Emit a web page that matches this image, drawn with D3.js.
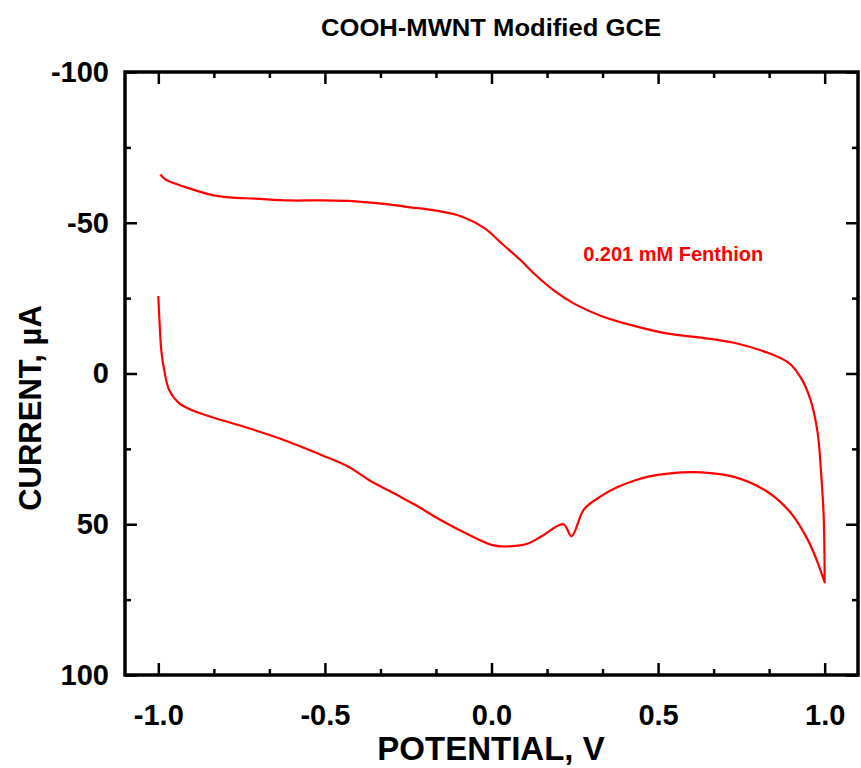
<!DOCTYPE html>
<html>
<head>
<meta charset="utf-8">
<script src="https://cdn.jsdelivr.net/npm/d3@7"></script>
<style>
  body { margin: 0; background: #fff; }
  svg { display: block; font-family: "Liberation Sans", Arial, sans-serif; }
</style>
</head>
<body>
<svg id="cv"></svg>
<script>
// forward scan (upper branch), potential in V, current in uA
var upperPotential = [-0.994, -0.979, -0.94, -0.907, -0.847, -0.787, -0.71, -0.608, -0.509, -0.41, -0.308, -0.25, -0.171, -0.09, -0.021, 0.03, 0.09, 0.129, 0.189, 0.249, 0.329, 0.428, 0.53, 0.629, 0.728, 0.829, 0.87, 0.898, 0.928, 0.958, 0.979, 0.988, 0.997, 1.0];
var upperCurrent   = [-66, -64.4, -62.6, -61.4, -59.4, -58.4, -58, -57.4, -57.4, -57.1, -56.1, -55.2, -54.1, -52.1, -48.2, -43.2, -37.3, -33, -27.4, -23.1, -19.1, -15.8, -13.2, -11.9, -10.2, -6.9, -5.0, -3.0, 1.3, 8.9, 19.8, 31, 47.5, 69.3];

// reverse scan (lower branch)
var lowerPotential = [1.0, 0.979, 0.949, 0.898, 0.829, 0.728, 0.629, 0.53, 0.47, 0.43, 0.38, 0.33, 0.278, 0.24, 0.216, 0.15, 0.11, 0.08, 0.01, -0.08, -0.17, -0.219, -0.27, -0.299, -0.368, -0.428, -0.509, -0.569, -0.629, -0.71, -0.778, -0.838, -0.898, -0.937, -0.967, -0.982, -0.991, -0.997, -1.0];
var lowerCurrent   = [69.3, 62.7, 55.1, 46.2, 39.3, 34.3, 32.8, 33.2, 34.2, 35.5, 37.6, 40.6, 45, 54, 50, 54, 56.4, 57.1, 57.1, 52.8, 47.5, 44.2, 41.1, 39.4, 35.3, 31, 27.1, 24.4, 21.8, 18.8, 16.5, 14.5, 12.2, 9.9, 5.6, -1, -7.6, -18.5, -25.7];

var xMajor = [-1.0, -0.5, 0.0, 0.5, 1.0];
var xMinor = [-0.8333, -0.6667, -0.3333, -0.1667, 0.1667, 0.3333, 0.6667, 0.8333];
var yMajor = [-100, -50, 0, 50, 100];
var yMinor = [-75, -25, 25, 75];

var titleText = "COOH-MWNT Modified GCE";
var xTitle = "POTENTIAL, V";
var yTitle = "CURRENT, \u00B5A";
var noteText = "0.201 mM Fenthion";

var dimensions = {
    width: 861,
    height: 768,
    margin: { top: 72, bottom: 93, left: 125, right: 3 }
};

var svg = d3.select("#cv")
            .attr("width", dimensions.width)
            .attr("height", dimensions.height);

var x0 = dimensions.margin.left,
    x1 = dimensions.width - dimensions.margin.right,
    y0 = dimensions.margin.top,
    y1 = dimensions.height - dimensions.margin.bottom;

var xScale = d3.scaleLinear().domain([-1.1, 1.1]).range([x0, x1]);
var yScale = d3.scaleLinear().domain([-100, 100]).range([y0, y1]);

// plain hyphen for negatives, like the original
var fmtX = d => d3.format(".1f")(d).replace("\u2212", "-");
var fmtY = d => d3.format("d")(d).replace("\u2212", "-");

var scan = upperPotential.map((p, i) => ({ p: p, c: upperCurrent[i] }))
    .concat(lowerPotential.map((p, i) => ({ p: p, c: lowerCurrent[i] })));

var line = d3.line()
             .curve(d3.curveCatmullRom.alpha(0.5))
             .x(d => xScale(d.p))
             .y(d => yScale(d.c));

svg.append("path")
   .datum(scan)
   .attr("d", line)
   .attr("fill", "none")
   .attr("stroke", "#ff0000")
   .attr("stroke-width", 2.2)
   .attr("stroke-linejoin", "round");

// minor ticks, all four sides
function minorAxis(gen, vals, tx, ty) {
    svg.append("g")
       .attr("transform", `translate(${tx},${ty})`)
       .call(gen.tickValues(vals).tickSize(-6).tickFormat(""))
       .call(g => g.select(".domain").remove())
       .selectAll("line").attr("stroke-width", 2.5);
}
minorAxis(d3.axisBottom(xScale), xMinor, 0, y1);
minorAxis(d3.axisTop(xScale), xMinor, 0, y0);
minorAxis(d3.axisLeft(yScale), yMinor, x0, 0);
minorAxis(d3.axisRight(yScale), yMinor, x1, 0);

// major ticks with labels
var xAxis = svg.append("g")
   .attr("transform", `translate(0,${y1})`)
   .call(d3.axisBottom(xScale).tickValues(xMajor).tickSize(-12).tickPadding(29).tickFormat(fmtX));
var yAxis = svg.append("g")
   .attr("transform", `translate(${x0},0)`)
   .call(d3.axisLeft(yScale).tickValues(yMajor).tickSize(-12).tickPadding(16).tickFormat(fmtY));
svg.append("g")
   .attr("transform", `translate(0,${y0})`)
   .call(d3.axisTop(xScale).tickValues(xMajor).tickSize(-12).tickFormat(""));
svg.append("g")
   .attr("transform", `translate(${x1},0)`)
   .call(d3.axisRight(yScale).tickValues(yMajor).tickSize(-12).tickFormat(""));

svg.selectAll(".tick line").attr("stroke", "#000").attr("stroke-width", 2.5);
svg.selectAll(".domain").remove();
svg.selectAll(".tick text")
   .attr("fill", "#000")
   .style("font-size", "29px")
   .style("font-weight", "bold");

// frame
svg.append("rect")
   .attr("x", x0).attr("y", y0)
   .attr("width", x1 - x0).attr("height", y1 - y0)
   .attr("fill", "none")
   .attr("stroke", "#000")
   .attr("stroke-width", 3.5);

svg.append("text")
   .text(titleText)
   .attr("x", 491).attr("y", 36)
   .attr("text-anchor", "middle")
   .attr("textLength", 340).attr("lengthAdjust", "spacingAndGlyphs")
   .style("font-size", "23px").style("font-weight", "bold");

svg.append("text")
   .text(xTitle)
   .attr("x", 491).attr("y", 760)
   .attr("text-anchor", "middle")
   .style("font-size", "33px").style("font-weight", "bold");

svg.append("text")
   .text(yTitle)
   .attr("transform", "translate(41,408) rotate(-90)")
   .attr("text-anchor", "middle")
   .style("font-size", "31px").style("font-weight", "bold");

svg.append("text")
   .text(noteText)
   .attr("x", xScale(0.275)).attr("y", 261)
   .attr("fill", "#ff0000")
   .style("font-size", "20px").style("font-weight", "bold");
</script>
</body>
</html>
